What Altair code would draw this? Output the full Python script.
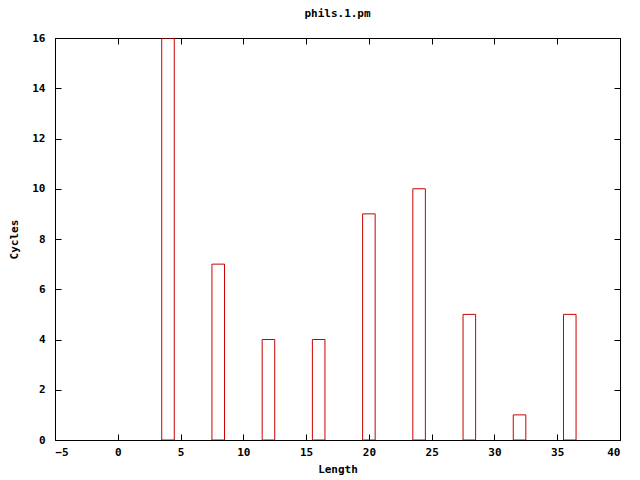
import altair as alt
import pandas as pd

positions = [4, 8, 12, 16, 20, 24, 28, 32, 36]
cycles = [16, 7, 4, 4, 9, 10, 5, 1, 5]
x_ticks = [-5, 0, 5, 10, 15, 20, 25, 30, 35, 40]
y_ticks = [0, 2, 4, 6, 8, 10, 12, 14, 16]
half_width = 0.5

df = pd.DataFrame({"pos": positions, "cycles": cycles})
df["left"] = df["pos"] - half_width
df["right"] = df["pos"] + half_width

W, H = 565, 402
FONT = "DejaVu Sans Mono"

xs = alt.Scale(domain=[-5, 40], nice=False, zero=False)
ys = alt.Scale(domain=[0, 16], nice=False)

bars = alt.Chart(df).mark_rect(fill="white", fillOpacity=0, stroke="#cc0000", strokeWidth=1, clip=True).encode(
    x=alt.X("left:Q", scale=xs, axis=alt.Axis(values=x_ticks, title="Length", ticks=False, domain=False, grid=False,
                                              labelPadding=6, titlePadding=6)),
    x2="right:Q",
    y=alt.Y("cycles:Q", scale=ys, axis=alt.Axis(values=y_ticks, title="Cycles", ticks=False, domain=False, grid=False,
                                                labelPadding=10, titlePadding=12)),
    y2=alt.datum(0),
)

tick_style = dict(labels=False, title=None, domain=False, grid=False, ticks=True, tickSize=6, tickColor="black", tickWidth=1)

layer2 = alt.Chart(df).mark_point(opacity=0).encode(
    x=alt.X("pos:Q", scale=xs, axis=alt.Axis(orient="top", offset=-H, values=x_ticks, **tick_style)),
    y=alt.Y("cycles:Q", scale=ys, axis=alt.Axis(orient="right", offset=-W, values=y_ticks, **tick_style)),
)
layer3 = alt.Chart(df).mark_point(opacity=0).encode(
    x=alt.X("pos:Q", scale=xs, axis=alt.Axis(orient="bottom", offset=-H, values=x_ticks, **tick_style)),
    y=alt.Y("cycles:Q", scale=ys, axis=alt.Axis(orient="left", offset=-W, values=y_ticks, **tick_style)),
)

chart = alt.layer(bars, layer2, layer3).resolve_axis(x="independent", y="independent").properties(
    width=W, height=H,
    title=alt.Title("phils.1.pm", font=FONT, fontSize=11, fontWeight="bold", offset=13, color="black"),
    autosize=alt.AutoSizeParams(type="none"),
    padding={"left": 47, "top": 30, "right": 12, "bottom": 40},
    background="white",
).configure_view(stroke="black", strokeWidth=1).configure_axis(
    labelFont=FONT, labelFontSize=11, labelFontWeight="bold", labelColor="black",
    titleFont=FONT, titleFontSize=11, titleFontWeight="bold", titleColor="black",
)

chart.save("out.html", embed_options={"renderer": "svg", "actions": False})
